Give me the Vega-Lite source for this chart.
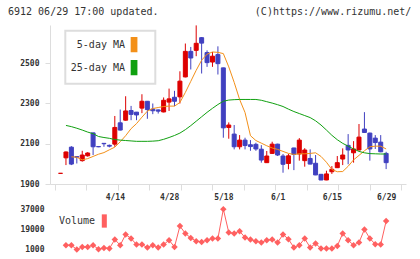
{
  "$schema": "https://vega.github.io/schema/vega-lite/v6.json",
  "width": 356,
  "height": 228,
  "autosize": {"type": "none"},
  "padding": {"left": 50, "top": 25, "right": 14, "bottom": 6},
  "background": "white",
  "config": {"view": {"stroke": null}, "font": "DejaVu Sans Mono"},
  "title": {
    "text": "6912 06/29 17:00 updated.\u00a0\u00a0\u00a0\u00a0\u00a0\u00a0\u00a0\u00a0\u00a0\u00a0\u00a0\u00a0\u00a0\u00a0\u00a0\u00a0(C)https://www.rizumu.net/",
    "anchor": "start", "frame": "group", "dx": -42, "offset": 8,
    "font": "DejaVu Sans Mono", "fontSize": 10, "fontWeight": "normal", "color": "#333333"
  },
  "datasets": {
    "candles": [
      {"i":0,"o":1953,"h":1953,"l":1953,"c":1953},
      {"i":1,"o":2030,"h":2062,"l":1994,"c":2059},
      {"i":2,"o":2083,"h":2088,"l":1994,"c":1999},
      {"i":3,"o":2036,"h":2037,"l":2002,"c":2033},
      {"i":4,"o":2016,"h":2065,"l":2011,"c":2044},
      {"i":5,"o":2040,"h":2058,"l":2036,"c":2054},
      {"i":6,"o":2154,"h":2155,"l":2044,"c":2085},
      {"i":7,"o":2086,"h":2087,"l":2083,"c":2085},
      {"i":8,"o":2102,"h":2102,"l":2085,"c":2100},
      {"i":9,"o":2092,"h":2096,"l":2082,"c":2088},
      {"i":10,"o":2098,"h":2238,"l":2085,"c":2181},
      {"i":11,"o":2204,"h":2270,"l":2166,"c":2168},
      {"i":12,"o":2217,"h":2336,"l":2215,"c":2263},
      {"i":13,"o":2265,"h":2288,"l":2217,"c":2246},
      {"i":14,"o":2257,"h":2258,"l":2217,"c":2243},
      {"i":15,"o":2277,"h":2346,"l":2252,"c":2311},
      {"i":16,"o":2311,"h":2312,"l":2224,"c":2270},
      {"i":17,"o":2272,"h":2300,"l":2247,"c":2264},
      {"i":18,"o":2268,"h":2270,"l":2250,"c":2262},
      {"i":19,"o":2258,"h":2330,"l":2256,"c":2316},
      {"i":20,"o":2307,"h":2374,"l":2263,"c":2323},
      {"i":21,"o":2331,"h":2363,"l":2287,"c":2311},
      {"i":22,"o":2333,"h":2460,"l":2300,"c":2411},
      {"i":23,"o":2432,"h":2598,"l":2430,"c":2559},
      {"i":24,"o":2559,"h":2581,"l":2469,"c":2526},
      {"i":25,"o":2564,"h":2688,"l":2535,"c":2599},
      {"i":26,"o":2627,"h":2630,"l":2449,"c":2600},
      {"i":27,"o":2553,"h":2564,"l":2482,"c":2503},
      {"i":28,"o":2506,"h":2556,"l":2482,"c":2535},
      {"i":29,"o":2543,"h":2584,"l":2444,"c":2498},
      {"i":30,"o":2477,"h":2478,"l":2130,"c":2179},
      {"i":31,"o":2181,"h":2206,"l":2125,"c":2193},
      {"i":32,"o":2148,"h":2193,"l":2072,"c":2085},
      {"i":33,"o":2085,"h":2143,"l":2072,"c":2118},
      {"i":34,"o":2118,"h":2130,"l":2072,"c":2091},
      {"i":35,"o":2095,"h":2118,"l":2065,"c":2086},
      {"i":36,"o":2097,"h":2105,"l":2065,"c":2074},
      {"i":37,"o":2073,"h":2093,"l":2006,"c":2019},
      {"i":38,"o":2006,"h":2064,"l":2005,"c":2039},
      {"i":39,"o":2052,"h":2110,"l":2049,"c":2098},
      {"i":40,"o":2098,"h":2100,"l":2039,"c":2044},
      {"i":41,"o":2039,"h":2049,"l":1956,"c":1998},
      {"i":42,"o":2002,"h":2049,"l":1973,"c":2040},
      {"i":43,"o":2079,"h":2080,"l":1969,"c":2047},
      {"i":44,"o":2049,"h":2128,"l":2016,"c":2118},
      {"i":45,"o":2016,"h":2078,"l":1986,"c":2069},
      {"i":46,"o":2027,"h":2072,"l":1998,"c":1999},
      {"i":47,"o":2003,"h":2044,"l":1944,"c":1945},
      {"i":48,"o":1948,"h":1950,"l":1919,"c":1920},
      {"i":49,"o":1920,"h":1966,"l":1919,"c":1950},
      {"i":50,"o":1961,"h":1989,"l":1950,"c":1973},
      {"i":51,"o":1981,"h":2039,"l":1980,"c":2006},
      {"i":52,"o":2024,"h":2077,"l":1994,"c":2044},
      {"i":53,"o":2092,"h":2148,"l":1998,"c":2069},
      {"i":54,"o":2055,"h":2113,"l":2006,"c":2074},
      {"i":55,"o":2069,"h":2198,"l":2067,"c":2133},
      {"i":56,"o":2173,"h":2257,"l":2154,"c":2156},
      {"i":57,"o":2153,"h":2155,"l":2016,"c":2074},
      {"i":58,"o":2128,"h":2143,"l":2074,"c":2106},
      {"i":59,"o":2108,"h":2143,"l":2058,"c":2060},
      {"i":60,"o":2052,"h":2060,"l":1974,"c":2006}
    ],
    "ma": [
      {"i":2,"v":2035,"ma":"5-day MA"},{"i":3,"v":2033,"ma":"5-day MA"},{"i":4,"v":2020,"ma":"5-day MA"},
      {"i":5,"v":2026,"ma":"5-day MA"},{"i":6,"v":2037,"ma":"5-day MA"},{"i":7,"v":2048,"ma":"5-day MA"},
      {"i":8,"v":2056,"ma":"5-day MA"},{"i":9,"v":2070,"ma":"5-day MA"},{"i":10,"v":2083,"ma":"5-day MA"},
      {"i":11,"v":2110,"ma":"5-day MA"},{"i":12,"v":2140,"ma":"5-day MA"},{"i":13,"v":2175,"ma":"5-day MA"},
      {"i":14,"v":2200,"ma":"5-day MA"},{"i":15,"v":2232,"ma":"5-day MA"},{"i":16,"v":2262,"ma":"5-day MA"},
      {"i":17,"v":2275,"ma":"5-day MA"},{"i":18,"v":2280,"ma":"5-day MA"},{"i":19,"v":2285,"ma":"5-day MA"},
      {"i":20,"v":2287,"ma":"5-day MA"},{"i":21,"v":2287,"ma":"5-day MA"},{"i":22,"v":2305,"ma":"5-day MA"},
      {"i":23,"v":2355,"ma":"5-day MA"},{"i":24,"v":2410,"ma":"5-day MA"},{"i":25,"v":2465,"ma":"5-day MA"},
      {"i":26,"v":2515,"ma":"5-day MA"},{"i":27,"v":2545,"ma":"5-day MA"},{"i":28,"v":2556,"ma":"5-day MA"},
      {"i":29,"v":2554,"ma":"5-day MA"},{"i":30,"v":2548,"ma":"5-day MA"},{"i":31,"v":2482,"ma":"5-day MA"},
      {"i":32,"v":2405,"ma":"5-day MA"},{"i":33,"v":2320,"ma":"5-day MA"},{"i":34,"v":2255,"ma":"5-day MA"},
      {"i":35,"v":2140,"ma":"5-day MA"},{"i":36,"v":2116,"ma":"5-day MA"},{"i":37,"v":2103,"ma":"5-day MA"},
      {"i":38,"v":2090,"ma":"5-day MA"},{"i":39,"v":2079,"ma":"5-day MA"},{"i":40,"v":2072,"ma":"5-day MA"},
      {"i":41,"v":2062,"ma":"5-day MA"},{"i":42,"v":2052,"ma":"5-day MA"},{"i":43,"v":2047,"ma":"5-day MA"},
      {"i":44,"v":2050,"ma":"5-day MA"},{"i":45,"v":2050,"ma":"5-day MA"},{"i":46,"v":2052,"ma":"5-day MA"},
      {"i":47,"v":2055,"ma":"5-day MA"},{"i":48,"v":2037,"ma":"5-day MA"},{"i":49,"v":2008,"ma":"5-day MA"},
      {"i":50,"v":1972,"ma":"5-day MA"},{"i":51,"v":1961,"ma":"5-day MA"},{"i":52,"v":1962,"ma":"5-day MA"},
      {"i":53,"v":1988,"ma":"5-day MA"},{"i":54,"v":2020,"ma":"5-day MA"},{"i":55,"v":2042,"ma":"5-day MA"},
      {"i":56,"v":2065,"ma":"5-day MA"},{"i":57,"v":2085,"ma":"5-day MA"},{"i":58,"v":2088,"ma":"5-day MA"},
      {"i":59,"v":2088,"ma":"5-day MA"},{"i":60,"v":2074,"ma":"5-day MA"},
      {"i":1,"v":2191,"ma":"25-day MA"},{"i":2,"v":2185,"ma":"25-day MA"},{"i":3,"v":2177,"ma":"25-day MA"},
      {"i":4,"v":2168,"ma":"25-day MA"},{"i":5,"v":2158,"ma":"25-day MA"},{"i":6,"v":2150,"ma":"25-day MA"},
      {"i":7,"v":2136,"ma":"25-day MA"},{"i":8,"v":2131,"ma":"25-day MA"},{"i":9,"v":2127,"ma":"25-day MA"},
      {"i":10,"v":2121,"ma":"25-day MA"},{"i":11,"v":2118,"ma":"25-day MA"},{"i":12,"v":2116,"ma":"25-day MA"},
      {"i":13,"v":2114,"ma":"25-day MA"},{"i":14,"v":2112,"ma":"25-day MA"},{"i":15,"v":2112,"ma":"25-day MA"},
      {"i":16,"v":2112,"ma":"25-day MA"},{"i":17,"v":2113,"ma":"25-day MA"},{"i":18,"v":2115,"ma":"25-day MA"},
      {"i":19,"v":2122,"ma":"25-day MA"},{"i":20,"v":2131,"ma":"25-day MA"},{"i":21,"v":2141,"ma":"25-day MA"},
      {"i":22,"v":2153,"ma":"25-day MA"},{"i":23,"v":2170,"ma":"25-day MA"},{"i":24,"v":2190,"ma":"25-day MA"},
      {"i":25,"v":2212,"ma":"25-day MA"},{"i":26,"v":2234,"ma":"25-day MA"},{"i":27,"v":2256,"ma":"25-day MA"},
      {"i":28,"v":2276,"ma":"25-day MA"},{"i":29,"v":2295,"ma":"25-day MA"},{"i":30,"v":2311,"ma":"25-day MA"},
      {"i":31,"v":2317,"ma":"25-day MA"},{"i":32,"v":2319,"ma":"25-day MA"},{"i":33,"v":2320,"ma":"25-day MA"},
      {"i":34,"v":2320,"ma":"25-day MA"},{"i":35,"v":2320,"ma":"25-day MA"},{"i":36,"v":2320,"ma":"25-day MA"},
      {"i":37,"v":2316,"ma":"25-day MA"},{"i":38,"v":2309,"ma":"25-day MA"},{"i":39,"v":2302,"ma":"25-day MA"},
      {"i":40,"v":2294,"ma":"25-day MA"},{"i":41,"v":2285,"ma":"25-day MA"},{"i":42,"v":2272,"ma":"25-day MA"},
      {"i":43,"v":2260,"ma":"25-day MA"},{"i":44,"v":2250,"ma":"25-day MA"},{"i":45,"v":2240,"ma":"25-day MA"},
      {"i":46,"v":2230,"ma":"25-day MA"},{"i":47,"v":2214,"ma":"25-day MA"},{"i":48,"v":2193,"ma":"25-day MA"},
      {"i":49,"v":2168,"ma":"25-day MA"},{"i":50,"v":2142,"ma":"25-day MA"},{"i":51,"v":2120,"ma":"25-day MA"},
      {"i":52,"v":2102,"ma":"25-day MA"},{"i":53,"v":2088,"ma":"25-day MA"},{"i":54,"v":2074,"ma":"25-day MA"},
      {"i":55,"v":2062,"ma":"25-day MA"},{"i":56,"v":2055,"ma":"25-day MA"},{"i":57,"v":2051,"ma":"25-day MA"},
      {"i":58,"v":2050,"ma":"25-day MA"},{"i":59,"v":2049,"ma":"25-day MA"},{"i":60,"v":2049,"ma":"25-day MA"}
    ],
    "vol": [
      {"i":1,"vol":5000,"s":"Volume"},{"i":2,"vol":5000,"s":"Volume"},{"i":3,"vol":1100,"s":"Volume"},
      {"i":4,"vol":3400,"s":"Volume"},{"i":5,"vol":3400,"s":"Volume"},{"i":6,"vol":5000,"s":"Volume"},
      {"i":7,"vol":1400,"s":"Volume"},{"i":8,"vol":2500,"s":"Volume"},{"i":9,"vol":2000,"s":"Volume"},
      {"i":10,"vol":10100,"s":"Volume"},{"i":11,"vol":5000,"s":"Volume"},{"i":12,"vol":14600,"s":"Volume"},
      {"i":13,"vol":11000,"s":"Volume"},{"i":14,"vol":5600,"s":"Volume"},{"i":15,"vol":5600,"s":"Volume"},
      {"i":16,"vol":2900,"s":"Volume"},{"i":17,"vol":5000,"s":"Volume"},{"i":18,"vol":2900,"s":"Volume"},
      {"i":19,"vol":5600,"s":"Volume"},{"i":20,"vol":9500,"s":"Volume"},{"i":21,"vol":3400,"s":"Volume"},
      {"i":22,"vol":22100,"s":"Volume"},{"i":23,"vol":15500,"s":"Volume"},{"i":24,"vol":11500,"s":"Volume"},
      {"i":25,"vol":8600,"s":"Volume"},{"i":26,"vol":7900,"s":"Volume"},{"i":27,"vol":9500,"s":"Volume"},
      {"i":28,"vol":11000,"s":"Volume"},{"i":29,"vol":11000,"s":"Volume"},{"i":30,"vol":37300,"s":"Volume"},
      {"i":31,"vol":16400,"s":"Volume"},{"i":32,"vol":15500,"s":"Volume"},{"i":33,"vol":17500,"s":"Volume"},
      {"i":34,"vol":11900,"s":"Volume"},{"i":35,"vol":10100,"s":"Volume"},{"i":36,"vol":8600,"s":"Volume"},
      {"i":37,"vol":7400,"s":"Volume"},{"i":38,"vol":9500,"s":"Volume"},{"i":39,"vol":10100,"s":"Volume"},
      {"i":40,"vol":7400,"s":"Volume"},{"i":41,"vol":14600,"s":"Volume"},{"i":42,"vol":10400,"s":"Volume"},
      {"i":43,"vol":2900,"s":"Volume"},{"i":44,"vol":5000,"s":"Volume"},{"i":45,"vol":11000,"s":"Volume"},
      {"i":46,"vol":2900,"s":"Volume"},{"i":47,"vol":6500,"s":"Volume"},{"i":48,"vol":2000,"s":"Volume"},
      {"i":49,"vol":2000,"s":"Volume"},{"i":50,"vol":2000,"s":"Volume"},{"i":51,"vol":4300,"s":"Volume"},
      {"i":52,"vol":15500,"s":"Volume"},{"i":53,"vol":9500,"s":"Volume"},{"i":54,"vol":5000,"s":"Volume"},
      {"i":55,"vol":7400,"s":"Volume"},{"i":56,"vol":19100,"s":"Volume"},{"i":57,"vol":11000,"s":"Volume"},
      {"i":58,"vol":5900,"s":"Volume"},{"i":59,"vol":5600,"s":"Volume"},{"i":60,"vol":26600,"s":"Volume"}
    ]
  },
  "encoding": {
    "x": {
      "field": "i", "type": "quantitative",
      "scale": {"domain": [-1.02, 62.74], "nice": false, "zero": false},
      "axis": {
        "title": null,
        "values": [-1.02, 4.776, 10, 10.573, 16.369, 20, 22.166, 27.962, 30, 33.758, 39.555, 40, 45.351, 50, 51.148, 56.944, 60, 62.74],
        "labelExpr": "datum.value == 10 ? '4/14' : datum.value == 20 ? '4/28' : datum.value == 30 ? '5/18' : datum.value == 40 ? '6/1' : datum.value == 50 ? '6/15' : datum.value == 60 ? '6/29' : ''",
        "tickColor": {"condition": {"test": "datum.value % 10 == 0", "value": "transparent"}, "value": "#dddddd"},
        "tickSize": 6,
        "domainColor": "#dddddd",
        "labelFont": "DejaVu Sans Mono", "labelFontSize": 8, "labelFontWeight": "bold", "labelColor": "#333333",
        "labelPadding": 3,
        "offset": -69,
        "grid": false,
        "labelOverlap": false,
        "labelFlush": false
      }
    }
  },
  "layer": [
    {
      "layer": [
        {
          "data": {"name": "candles"},
          "mark": {"type": "rule", "strokeWidth": 1},
          "encoding": {
            "y": {"field": "l", "type": "quantitative",
              "scale": {"domain": [1900, 2690], "range": [159, 0], "nice": false, "zero": false},
              "axis": {"title": null, "format": "d", "values": [1900, 2100, 2300, 2500], "domainColor": "#dddddd", "tickColor": "#dddddd", "tickSize": 5, "labelPadding": 6, "labelFont": "DejaVu Sans Mono", "labelFontSize": 8, "labelFontWeight": "bold", "labelColor": "#333333", "grid": false}},
            "y2": {"field": "h"},
            "color": {"condition": {"test": "datum.c >= datum.o", "value": "#dd0000"}, "value": "#4040c0"}
          }
        },
        {
          "data": {"name": "candles"},
          "mark": {"type": "bar", "size": 4, "strokeWidth": 1},
          "encoding": {
            "y": {"field": "o", "type": "quantitative",
              "scale": {"domain": [1900, 2690], "range": [159, 0], "nice": false, "zero": false},
              "axis": {"title": null, "format": "d", "values": [1900, 2100, 2300, 2500], "domainColor": "#dddddd", "tickColor": "#dddddd", "tickSize": 5, "labelPadding": 6, "labelFont": "DejaVu Sans Mono", "labelFontSize": 8, "labelFontWeight": "bold", "labelColor": "#333333", "grid": false}},
            "y2": {"field": "c"},
            "fill": {"condition": {"test": "datum.c >= datum.o", "value": "#dd0000"}, "value": "#4040c0"},
            "stroke": {"condition": {"test": "datum.c >= datum.o", "value": "#dd0000"}, "value": "#4040c0"}
          }
        },
        {
          "data": {"name": "ma"},
          "mark": {"type": "line", "strokeWidth": 1},
          "encoding": {
            "y": {"field": "v", "type": "quantitative",
              "scale": {"domain": [1900, 2690], "range": [159, 0], "nice": false, "zero": false},
              "axis": {"title": null, "format": "d", "values": [1900, 2100, 2300, 2500], "domainColor": "#dddddd", "tickColor": "#dddddd", "tickSize": 5, "labelPadding": 6, "labelFont": "DejaVu Sans Mono", "labelFontSize": 8, "labelFontWeight": "bold", "labelColor": "#333333", "grid": false}},
            "color": {
              "field": "ma", "type": "nominal",
              "scale": {"domain": ["5-day MA", "25-day MA"], "range": ["#f39019", "#10a010"]},
              "legend": {
                "orient": "none", "legendX": 15.3, "legendY": 5.7, "title": null,
                "symbolType": "M6.95,-0.92H7.65V0.92H6.95Z M8.96,0",
                "symbolSize": 225, "symbolStrokeWidth": 1.5,
                "labelAlign": "right", "labelOffset": 37.2,
                "labelFont": "DejaVu Sans Mono", "labelFontSize": 10, "labelColor": "#333333",
                "padding": 5.5, "rowPadding": 2,
                "fillColor": "#ffffff", "strokeColor": "#dddddd",
                "encode": {
                  "symbols": {"update": {"fill": {"scale": "color", "field": "value"}, "stroke": {"value": "#333333"}, "strokeWidth": {"value": 1.5}}},
                  "legend": {"update": {"strokeWidth": {"value": 2}}}
                }
              }
            }
          }
        }
      ]
    },
    {
      "data": {"name": "vol"},
      "layer": [
        {
          "mark": {"type": "line", "color": "#ff6060", "strokeWidth": 1},
          "encoding": {
            "y": {"field": "vol", "type": "quantitative",
              "scale": {"domain": [-2000, 41000], "range": [228, 180], "nice": false, "zero": false},
              "axis": {"title": null, "format": "d", "orient": "left", "values": [1000, 19000, 37000], "domain": false, "ticks": false, "tickSize": 0, "labelPadding": 6, "labelFont": "DejaVu Sans Mono", "labelFontSize": 8, "labelFontWeight": "bold", "labelColor": "#333333", "grid": false}}
          }
        },
        {
          "mark": {"type": "point", "shape": "diamond", "filled": true, "size": 42, "opacity": 1, "strokeWidth": 0},
          "encoding": {
            "y": {"field": "vol", "type": "quantitative",
              "scale": {"domain": [-2000, 41000], "range": [228, 180], "nice": false, "zero": false},
              "axis": {"title": null, "format": "d", "orient": "left", "values": [1000, 19000, 37000], "domain": false, "ticks": false, "tickSize": 0, "labelPadding": 6, "labelFont": "DejaVu Sans Mono", "labelFontSize": 8, "labelFontWeight": "bold", "labelColor": "#333333", "grid": false}},
            "fill": {
              "field": "s", "type": "nominal",
              "scale": {"domain": ["Volume"], "range": ["#ff6060"]},
              "legend": {
                "orient": "none", "legendX": 9, "legendY": 188, "title": null,
                "symbolType": "M4.97,-0.95H5.69V0.95H4.97Z",
                "symbolSize": 196, "symbolStrokeWidth": 1.5,
                "labelAlign": "right", "labelOffset": 20.1,
                "labelFont": "DejaVu Sans Mono", "labelFontSize": 10, "labelColor": "#333333",
                "padding": 0,
                "encode": {"symbols": {"update": {"fill": {"value": "#ff6060"}, "stroke": {"value": "#333333"}, "strokeWidth": {"value": 1.5}}}}
              }
            }
          }
        }
      ]
    }
  ],
  "resolve": {"scale": {"y": "independent"}, "axis": {"y": "independent"}}
}
